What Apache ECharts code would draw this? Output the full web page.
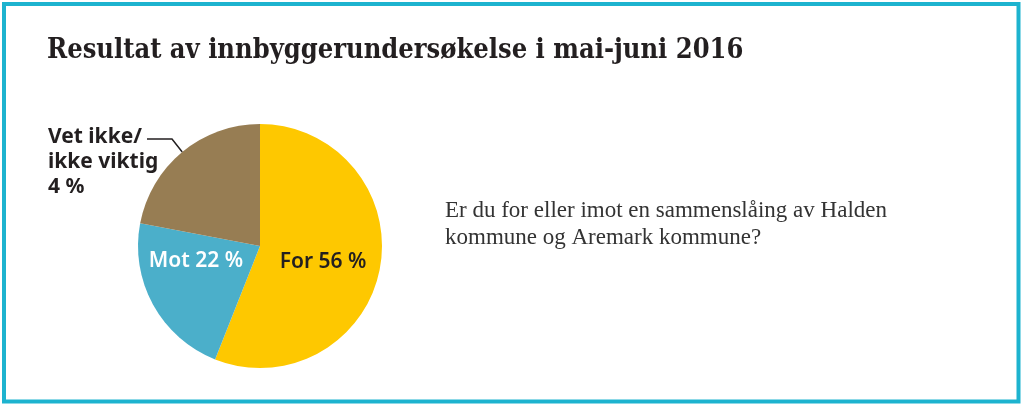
<!DOCTYPE html>
<html>
<head>
<meta charset="utf-8">
<script src="https://cdn.jsdelivr.net/npm/echarts@6/dist/echarts.min.js"></script>
<style>
html,body{margin:0;padding:0;background:#fff;}
#chart{width:1024px;height:406px;}
</style>
</head>
<body>
<div id="chart"></div>
<script>
var titleText = 'Resultat av innbyggerundersøkelse i mai-juni 2016';
var questionLines = ['Er du for eller imot en sammenslåing av Halden', 'kommune og Aremark kommune?'];
var categories = ['For', 'Mot', 'Vet ikke/ikke viktig'];
var values = [56, 22, 22];
var labelTexts = ['For 56 %', 'Mot 22 %', 'Vet ikke/\nikke viktig\n4 %'];
var colors = ['#FEC800', '#4BAFCA', '#977D53'];

var chart = echarts.init(document.getElementById('chart'), null, {renderer: 'canvas'});
var data = categories.map(function (c, i) {
  var item = {name: c, value: values[i], itemStyle: {color: colors[i]}};
  if (i === 0) {
    item.label = {position: 'inside', color: '#231f20'};
  } else if (i === 1) {
    item.label = {position: 'inside', color: '#ffffff'};
  } else {
    item.label = {position: 'outside', color: '#231f20', align: 'left', lineHeight: 25, fontWeight: 'bold'};
    item.labelLine = {show: true, length: 20, length2: 40, lineStyle: {color: '#231f20', width: 1.5}};
  }
  return item;
});

chart.setOption({
  animation: false,
  graphic: [
    {type: 'rect', shape: {x: 4, y: 4, width: 1014.5, height: 397.5}, style: {fill: 'none', stroke: '#1DB3CF', lineWidth: 4}, silent: true},
    {type: 'text', x: 47, y: 37, style: {text: titleText, font: 'bold 27px "DejaVu Serif Condensed", "Liberation Serif"', fill: '#231f20'}},
    {type: 'text', x: 445, y: 197, style: {text: questionLines.join('\n'), font: '23px "Liberation Serif"', lineHeight: 27, fill: '#333333'}}
  ],
  series: [{
    type: 'pie',
    center: [260, 246],
    radius: 122,
    startAngle: 90,
    clockwise: true,
    silent: true,
    data: data,
    label: {
      formatter: function (p) { return labelTexts[p.dataIndex]; },
      fontFamily: 'Noto Sans', fontSize: 21, fontWeight: 600
    },
    labelLine: {show: false},
    labelLayout: function (p) {
      if (p.dataIndex === 0) {
        return {x: 323, y: 262, align: 'center', verticalAlign: 'middle'};
      }
      if (p.dataIndex === 1) {
        return {x: 196, y: 261, align: 'center', verticalAlign: 'middle'};
      }
      var pts = p.labelLinePoints;
      return {
        x: 48, y: 125, align: 'left', verticalAlign: 'top',
        labelLinePoints: [pts[0], [172, 139], [147, 139]]
      };
    }
  }]
});
</script>
</body>
</html>
